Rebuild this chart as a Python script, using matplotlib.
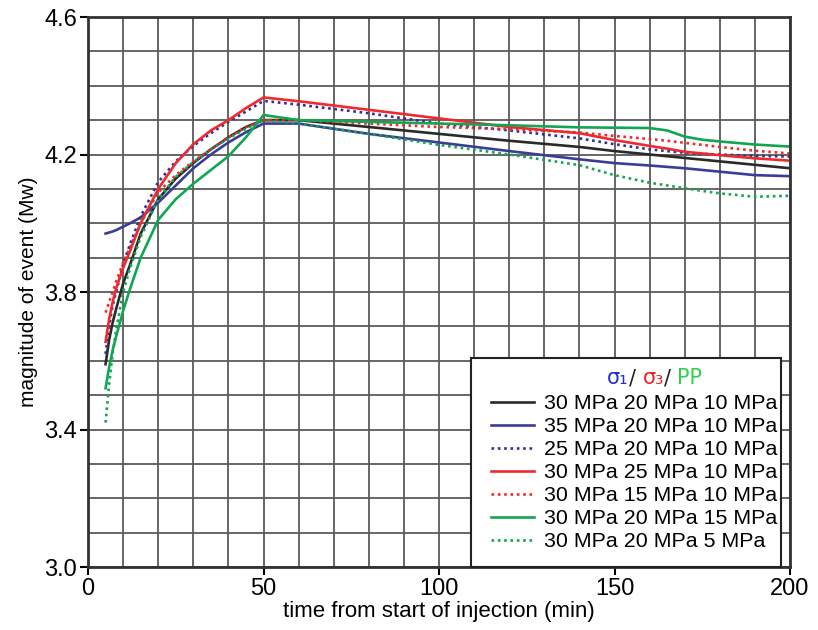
import numpy as np
import matplotlib
matplotlib.use('Agg')
import matplotlib.pyplot as plt
from matplotlib.ticker import MultipleLocator
from matplotlib.offsetbox import TextArea, HPacker, VPacker, DrawingArea
from matplotlib.legend_handler import HandlerLine2D

# time (min) and magnitude
t_main = [5, 6, 7, 8, 10, 12, 15, 20, 25, 30, 35, 40, 45, 50, 60, 80, 100, 120,
          140, 150, 160, 165, 170, 175, 180, 190, 200]

black_30_20_10 = [3.59, 3.66, 3.71, 3.75, 3.825, 3.88, 3.97, 4.07, 4.13, 4.175, 4.215, 4.25, 4.28, 4.30,
                  4.30, 4.28, 4.26, 4.24, 4.222, 4.21, 4.20, 4.195, 4.19, 4.185, 4.18, 4.17, 4.16]
blue_35_20_10 = [3.97, 3.973, 3.976, 3.98, 3.99, 4.00, 4.017, 4.06, 4.11, 4.16, 4.20, 4.235, 4.265, 4.29,
                 4.29, 4.26, 4.235, 4.21, 4.186, 4.175, 4.168, 4.164, 4.16, 4.155, 4.15, 4.14, 4.137]
bluedot_25_20_10 = [3.62, 3.70, 3.76, 3.80, 3.88, 3.94, 4.02, 4.12, 4.18, 4.225, 4.262, 4.295, 4.325, 4.356,
                    4.345, 4.32, 4.29, 4.27, 4.247, 4.23, 4.215, 4.21, 4.205, 4.202, 4.20, 4.196, 4.194]
red_30_25_10 = [3.655, 3.72, 3.77, 3.81, 3.87, 3.92, 4.00, 4.10, 4.175, 4.23, 4.27, 4.30, 4.335, 4.366,
                4.355, 4.33, 4.305, 4.28, 4.262, 4.242, 4.225, 4.217, 4.208, 4.203, 4.198, 4.189, 4.182]
reddot_30_15_10 = [3.74, 3.77, 3.80, 3.83, 3.885, 3.93, 4.00, 4.09, 4.14, 4.18, 4.215, 4.25, 4.28, 4.30,
                   4.30, 4.29, 4.28, 4.274, 4.264, 4.254, 4.245, 4.24, 4.234, 4.228, 4.222, 4.211, 4.203]
green_30_20_15 = [3.52, 3.58, 3.63, 3.67, 3.745, 3.81, 3.90, 4.01, 4.07, 4.115, 4.155, 4.195, 4.25, 4.315,
                  4.30, 4.295, 4.29, 4.285, 4.279, 4.278, 4.277, 4.27, 4.252, 4.243, 4.238, 4.229, 4.223]
greendot_30_20_5 = [3.42, 3.53, 3.62, 3.69, 3.80, 3.87, 3.96, 4.07, 4.135, 4.178, 4.215, 4.247, 4.275, 4.30,
                    4.29, 4.26, 4.228, 4.20, 4.169, 4.14, 4.118, 4.11, 4.102, 4.094, 4.087, 4.077, 4.08]

labels = ['30 MPa 20 MPa 10 MPa', '35 MPa 20 MPa 10 MPa', '25 MPa 20 MPa 10 MPa',
          '30 MPa 25 MPa 10 MPa', '30 MPa 15 MPa 10 MPa', '30 MPa 20 MPa 15 MPa',
          '30 MPa 20 MPa 5 MPa']

regular = ['Liberation Sans', 'DejaVu Sans']

fig = plt.figure(figsize=(8.18, 6.3), dpi=100)
ax = fig.add_axes([0.1076, 0.1, 0.8582, 0.873])

dot = (0, (1, 1.4))
series = [
    (black_30_20_10, '#2a2a2a', '-'),
    (blue_35_20_10, '#3b3c98', '-'),
    (bluedot_25_20_10, '#2e3192', dot),
    (red_30_25_10, '#ee2a2f', '-'),
    (reddot_30_15_10, '#ee2a2f', dot),
    (green_30_20_15, '#12a552', '-'),
    (greendot_30_20_5, '#12a552', dot),
]
for (vals, col, ls), lab in zip(series, labels):
    ax.plot(t_main, vals, color=col, linestyle=ls, linewidth=1.9, label=lab)

ax.set_xlim(0, 200)
ax.set_ylim(3.0, 4.6)
ax.xaxis.set_minor_locator(MultipleLocator(10))
ax.yaxis.set_minor_locator(MultipleLocator(0.1))
ax.grid(True, which='both', color='#5a5a5a', linewidth=1.3)
ax.set_axisbelow(True)
ax.tick_params(which='minor', length=0)
ax.tick_params(which='major', length=6, width=1.5, direction='out', pad=2)
for sp in ax.spines.values():
    sp.set_linewidth(2)
    sp.set_color('#333333')

ax.set_yticks([3.0, 3.4, 3.8, 4.2, 4.6])
ax.set_yticklabels(['3.0', '3.4', '3.8', '4.2', '4.6'], family=regular, fontsize=17)
ax.set_xticks([0, 50, 100, 150, 200])
ax.set_xticklabels(['0', '50', '100', '150', '200'], family=regular, fontsize=17)

ax.set_xlabel('time from start of injection (min)', family=regular, fontsize=16, labelpad=1)
ax.set_ylabel('magnitude of event (Mw)', family=regular, fontsize=15, labelpad=4)

leg = ax.legend(loc='lower right', bbox_to_anchor=(0.987, 0.0), borderaxespad=0,
                prop={'family': regular, 'size': 15.4}, title=' ',
                handlelength=2.8, handletextpad=0.5, labelspacing=0.187,
                borderpad=0.15, fancybox=False, framealpha=1, edgecolor='#222222',
                handler_map={plt.Line2D: HandlerLine2D(xpad=0.8)})
leg.get_frame().set_linewidth(1.5)

# coloured title sigma1 / sigma3 / PP, centred over the label column
tp = dict(family=['DejaVu Sans'], size=15)
title_row = HPacker(children=[
    DrawingArea(42, 1),
    TextArea('σ\u2081', textprops=dict(color='#1f2fd0', **tp)),
    TextArea('/ ', textprops=dict(color='#222222', **tp)),
    TextArea('σ\u2083', textprops=dict(color='#ee2222', **tp)),
    TextArea('/ ', textprops=dict(color='#222222', **tp)),
    TextArea('PP', textprops=dict(color='#2ed24a', **tp)),
], align='baseline', pad=0, sep=0)
title_box = VPacker(children=[DrawingArea(1, 5), title_row, DrawingArea(1, 1.5)],
                    align='center', pad=0, sep=0)
title_box.set_figure(fig)
rows_box = VPacker(children=[leg._legend_box._children[1], DrawingArea(1, 9)],
                   align='left', pad=0, sep=0)
rows_box.set_figure(fig)
leg._legend_box._children[0] = title_box
leg._legend_box._children[1] = rows_box

fig.savefig('out.png', dpi=100)
